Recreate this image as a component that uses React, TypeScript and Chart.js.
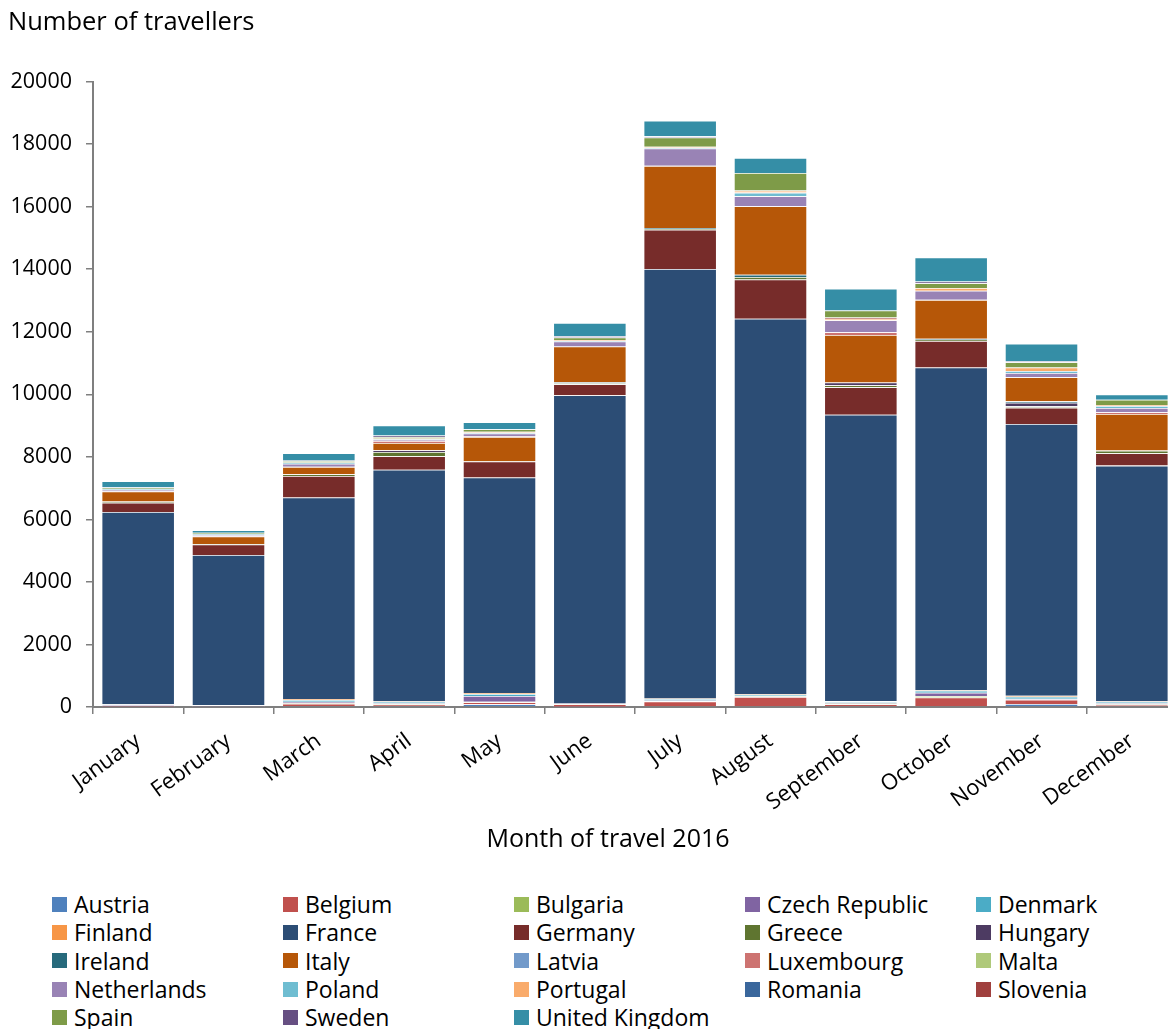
import { useEffect, useRef } from "react";
import { Chart, registerables } from "chart.js";

Chart.register(...registerables);

const months = [
  "January", "February", "March", "April", "May", "June",
  "July", "August", "September", "October", "November", "December",
];

// travellers per country, Jan..Dec (stacked in legend order, bottom to top)
const austria = [10, 10, 35, 35, 90, 10, 20, 20, 20, 20, 95, 20];
const belgium = [30, 10, 70, 45, 60, 80, 160, 305, 70, 285, 135, 55];
const bulgaria = [5, 5, 15, 15, 15, 5, 10, 15, 20, 45, 10, 10];
const czechRepublic = [40, 20, 45, 25, 190, 15, 20, 15, 35, 105, 20, 35];
const denmark = [5, 10, 60, 45, 60, 5, 45, 25, 35, 65, 70, 45];
const finland = [0, 5, 30, 20, 35, 0, 20, 25, 10, 15, 30, 20];
const france = [6150, 4800, 6445, 7405, 6890, 9855, 13735, 12015, 9160, 10325, 8690, 7535];
const germany = [290, 340, 690, 430, 510, 350, 1250, 1255, 875, 845, 525, 395];
const greece = [30, 10, 55, 135, 10, 30, 30, 75, 65, 40, 45, 85];
const hungary = [0, 0, 0, 55, 0, 0, 0, 0, 85, 0, 110, 0];
const ireland = [10, 0, 0, 0, 0, 35, 30, 75, 0, 35, 50, 0];
const italy = [320, 245, 235, 235, 775, 1145, 1985, 2190, 1525, 1240, 765, 1170];
const latvia = [5, 0, 0, 0, 10, 0, 0, 0, 0, 0, 0, 0];
const luxembourg = [5, 5, 0, 60, 10, 0, 0, 0, 85, 0, 0, 55];
const malta = [0, 0, 0, 0, 10, 0, 0, 0, 0, 0, 0, 0];
const netherlands = [50, 40, 100, 40, 85, 160, 555, 320, 385, 290, 140, 135];
const poland = [20, 25, 40, 20, 30, 25, 30, 115, 0, 0, 60, 65];
const portugal = [10, 10, 0, 20, 25, 25, 30, 65, 50, 90, 110, 30];
const romania = [0, 0, 0, 0, 0, 0, 0, 0, 0, 0, 0, 0];
const slovenia = [0, 0, 0, 0, 0, 0, 0, 0, 40, 0, 0, 0];
const spain = [40, 30, 50, 50, 75, 80, 290, 565, 220, 150, 170, 170];
const sweden = [10, 5, 10, 50, 0, 40, 40, 0, 0, 55, 35, 0];
const unitedKingdom = [190, 85, 235, 320, 225, 420, 500, 475, 700, 770, 555, 170];

const countries = [
  { name: "Austria", color: "#4F81BD", data: austria },
  { name: "Belgium", color: "#C0504D", data: belgium },
  { name: "Bulgaria", color: "#9BBB59", data: bulgaria },
  { name: "Czech Republic", color: "#8064A2", data: czechRepublic },
  { name: "Denmark", color: "#4BACC6", data: denmark },
  { name: "Finland", color: "#F79646", data: finland },
  { name: "France", color: "#2C4D75", data: france },
  { name: "Germany", color: "#772C2A", data: germany },
  { name: "Greece", color: "#5F7530", data: greece },
  { name: "Hungary", color: "#4D3B62", data: hungary },
  { name: "Ireland", color: "#276A7C", data: ireland },
  { name: "Italy", color: "#B65708", data: italy },
  { name: "Latvia", color: "#729ACA", data: latvia },
  { name: "Luxembourg", color: "#CD7371", data: luxembourg },
  { name: "Malta", color: "#AFC97A", data: malta },
  { name: "Netherlands", color: "#9983B5", data: netherlands },
  { name: "Poland", color: "#6FBDD1", data: poland },
  { name: "Portugal", color: "#F9AB6B", data: portugal },
  { name: "Romania", color: "#3A679C", data: romania },
  { name: "Slovenia", color: "#A0403E", data: slovenia },
  { name: "Spain", color: "#7E9B48", data: spain },
  { name: "Sweden", color: "#664F82", data: sweden },
  { name: "United Kingdom", color: "#358EA6", data: unitedKingdom },
];

const FONT = "'Open Sans', 'DejaVu Sans', sans-serif";
const AXIS = "#7f7f7f";

function TravellersChart() {
  const ref = useRef<HTMLCanvasElement | null>(null);
  useEffect(() => {
    if (!ref.current) return;
    const ctx = ref.current.getContext("2d");
    if (!ctx) return;

    const chart = new Chart(ctx, {
      type: "bar",
      data: {
        labels: months,
        datasets: countries.map((c) => ({
          label: c.name,
          data: c.data,
          backgroundColor: c.color,
          borderColor: "rgba(255, 255, 255, 0.22)",
          borderWidth: 0.8,
          barPercentage: 0.81,
          categoryPercentage: 1,
        })),
      },
      options: {
        animation: false,
        responsive: true,
        maintainAspectRatio: false,
        layout: { padding: { left: 8, right: 39, top: 0, bottom: 47 } },
        plugins: {
          legend: { display: false },
          tooltip: { enabled: false },
          title: {
            display: true,
            text: "Number of travellers",
            align: "start",
            color: "#000",
            font: { family: FONT, size: 25.5, weight: "normal" },
            padding: { top: 7, bottom: 44 },
          },
        },
        scales: {
          x: {
            stacked: true,
            offset: true,
            grid: {
              offset: true,
              drawOnChartArea: false,
              drawTicks: true,
              tickLength: 7,
              color: AXIS,
              lineWidth: 1.5,
            },
            border: { color: AXIS, width: 2 },
            ticks: {
              color: "#000",
              font: { family: FONT, size: 22 },
              minRotation: 36,
              maxRotation: 36,
              padding: 14,
            },
            afterFit: (scale) => {
              scale.height = 116;
            },
          },
          y: {
            stacked: true,
            min: 0,
            max: 20000,
            grid: {
              drawOnChartArea: false,
              drawTicks: true,
              tickLength: 7,
              color: AXIS,
              lineWidth: 1.5,
            },
            border: { color: AXIS, width: 2 },
            ticks: {
              stepSize: 2000,
              color: "#000",
              font: { family: FONT, size: 21.5 },
              padding: 14,
              callback: (value) => String(value),
            },
            afterFit: (scale) => {
              scale.width = 85;
            },
          },
        },
      },
    });
    return () => chart.destroy();
  }, []);
  return (
    <div style={{ position: "absolute", left: 0, top: 0, width: 1216, height: 870 }}>
      <canvas ref={ref} />
    </div>
  );
}

function Legend() {
  return (
    <div
      style={{
        position: "absolute",
        left: 52,
        top: 890,
        display: "grid",
        gridTemplateColumns: "repeat(5, 231px)",
        gridAutoRows: "28.3px",
        fontFamily: FONT,
        fontSize: 23,
        color: "#000",
      }}
    >
      {countries.map((c) => (
        <div key={c.name} style={{ display: "flex", alignItems: "center", whiteSpace: "nowrap" }}>
          <span
            style={{
              display: "inline-block",
              width: 15,
              height: 15,
              background: c.color,
              marginRight: 7,
              flex: "none",
            }}
          />
          <span style={{ lineHeight: "28px" }}>{c.name}</span>
        </div>
      ))}
    </div>
  );
}

export default function App() {
  useEffect(() => {
    document.body.style.margin = "0";
  }, []);
  return (
    <div
      style={{
        position: "relative",
        width: 1168,
        height: 1029,
        overflow: "hidden",
        background: "#fff",
      }}
    >
      <TravellersChart />
      {/* x-axis title, centred on the full (uncropped) chart width */}
      <div
        style={{
          position: "absolute",
          left: 0,
          top: 820,
          width: 1216,
          textAlign: "center",
          fontFamily: FONT,
          fontSize: 25,
          lineHeight: "34px",
          color: "#000",
        }}
      >
        Month of travel 2016
      </div>
      <Legend />
    </div>
  );
}
